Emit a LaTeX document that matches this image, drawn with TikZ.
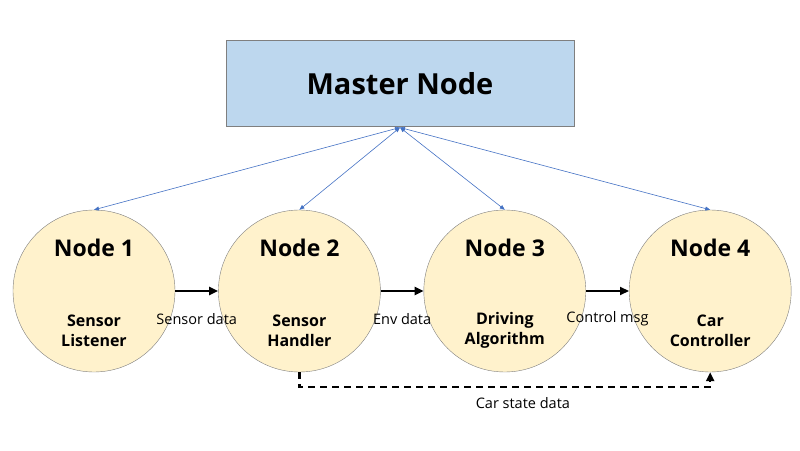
\documentclass[tikz,border=0pt]{standalone}
\usepackage{fontspec}
\setmainfont{Open Sans}
\usetikzlibrary{arrows.meta, calc, positioning}
\definecolor{masterblue}{RGB}{189,215,238}
\definecolor{nodecream}{RGB}{255,242,204}
\definecolor{edgegray}{RGB}{127,127,127}
\definecolor{linkblue}{RGB}{68,114,196}
\begin{document}
\begin{tikzpicture}[x=1pt, y=1pt,
				masterbox/.style = {draw=edgegray, fill=masterblue, line width=1pt, minimum width=348pt, minimum height=86pt, font=\fontsize{29}{34}\selectfont\bfseries},
				rosnode/.style = {circle, draw=edgegray, fill=nodecream, minimum size=162pt, inner sep=0pt},
				nodetitle/.style = {font=\fontsize{23}{27}\selectfont\bfseries},
				nodetask/.style = {font=\fontsize{16}{20}\selectfont\bfseries, align=center},
				msgtext/.style = {font=\fontsize{14.5}{17}\selectfont},
				masterlink/.style = {draw=linkblue, line width=0.6pt, {Triangle[length=5pt,width=4pt]}-{Triangle[length=5pt,width=4pt]}},
				topic/.style = {draw=black, line width=2.2pt, -{Triangle[length=9pt,width=8pt]}},
				feedback/.style = {topic, dash pattern=on 7pt off 5pt}
				]
				\useasboundingbox (0,0) rectangle (800,450);
				\node[masterbox] (master) at (400,366) {Master Node};
				\node[rosnode] (n1) at (94,159) {};
				\node[rosnode, right=43pt of n1] (n2) {};
				\node[rosnode, right=43pt of n2] (n3) {};
				\node[rosnode, right=43pt of n3] (n4) {};
				
				\node[nodetitle] (n1title) at ($(n1)+(0,43)$) {Node 1};
				\node[nodetitle] (n2title) at ($(n2)+(0,43)$) {Node 2};
				\node[nodetitle] (n3title) at ($(n3)+(0,43)$) {Node 3};
				\node[nodetitle] (n4title) at ($(n4)+(0,43)$) {Node 4};
				\node[nodetask] (n1task) at ($(n1)+(0,-39.5)$) {Sensor\\Listener};
				\node[nodetask] (n2task) at ($(n2)+(0,-39.5)$) {Sensor\\Handler};
				\node[nodetask] (n3task) at ($(n3)+(0,-39.5)$) {Driving\\Algorithm};
				\node[nodetask] (n4task) at ($(n4)+(0,-39.5)$) {Car\\Controller};
				
				%\draw[masterlink] (master) -- (n1);
				\draw[masterlink] (master.south) -- (n1.north);
				\draw[masterlink] (master.south) -- (n2.north);
				\draw[masterlink] (master.south) -- (n3.north);
				\draw[masterlink] (master.south) -- (n4.north);
				
				\draw[topic] (n1) -- node[msgtext, yshift=-28pt] {Sensor data} (n2);
				\draw[topic] (n2) -- node[msgtext, yshift=-28pt] {Env data} (n3);
				\draw[topic] (n3) -- node[msgtext, yshift=-28pt] {Control msg} (n4);
				\draw[feedback] (n2.south) -- ++(0,-15) -| node[msgtext, pos=0.272, yshift=-16pt] {Car state data} (n4.south);
				\end{tikzpicture}
\end{document}
